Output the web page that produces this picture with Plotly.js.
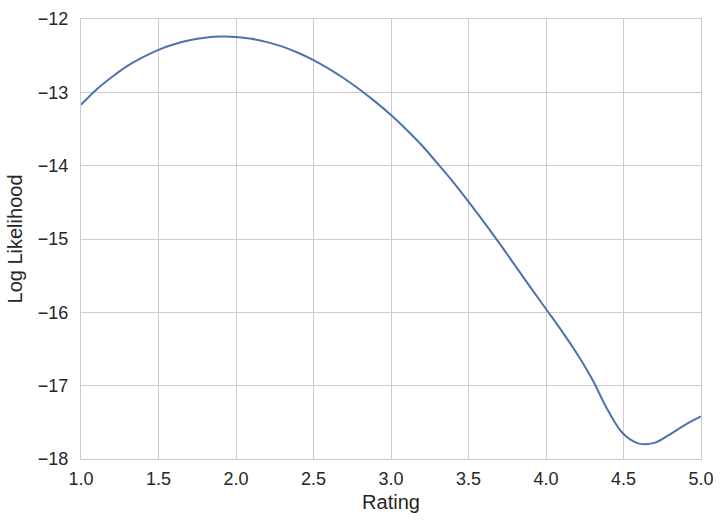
<!DOCTYPE html>
<html>
<head>
<meta charset="utf-8">
<script src="https://cdn.plot.ly/plotly-3.0.1.min.js"></script>
<style>html,body{margin:0;padding:0;background:#fff;}#chart{width:725px;height:524px;}</style>
</head>
<body>
<div id="chart"></div>
<script>
const rating = [1.0, 1.1, 1.2, 1.3, 1.4, 1.5, 1.6, 1.7, 1.8, 1.9, 2.0, 2.1, 2.2, 2.3, 2.4, 2.5, 2.6, 2.7, 2.8, 2.9, 3.0, 3.1, 3.2, 3.3, 3.4, 3.5, 3.6, 3.7, 3.8, 3.9, 4.0, 4.1, 4.2, 4.3, 4.4, 4.5, 4.6, 4.7, 4.8, 4.9, 5.0];
const logLik = [-13.17, -12.96, -12.79, -12.64, -12.52, -12.42, -12.345, -12.29, -12.255, -12.24, -12.245, -12.27, -12.315, -12.377, -12.46, -12.56, -12.68, -12.815, -12.965, -13.13, -13.31, -13.51, -13.725, -13.97, -14.22, -14.49, -14.77, -15.06, -15.36, -15.66, -15.955, -16.25, -16.565, -16.92, -17.34, -17.66, -17.79, -17.78, -17.665, -17.53, -17.42];
const xTicks = [1.0, 1.5, 2.0, 2.5, 3.0, 3.5, 4.0, 4.5, 5.0];
const xTickText = ["1.0", "1.5", "2.0", "2.5", "3.0", "3.5", "4.0", "4.5", "5.0"];
const yTicks = [-18, -17, -16, -15, -14, -13, -12];

const font = {family: "Liberation Sans, Arial, sans-serif", color: "#262626"};
const trace = {
  x: rating, y: logLik, type: "scatter", mode: "lines",
  line: {color: "#4c72b0", width: 2, shape: "spline", smoothing: 1},
  hoverinfo: "none"
};
const layout = {
  width: 725, height: 524,
  margin: {l: 81, r: 24, t: 19, b: 65},
  paper_bgcolor: "#ffffff", plot_bgcolor: "#ffffff",
  showlegend: false,
  font: Object.assign({size: 18}, font),
  xaxis: {
    range: [1, 5], tickvals: xTicks, ticktext: xTickText,
    showgrid: true, gridcolor: "#cccccc", gridwidth: 1,
    showline: true, linecolor: "#cccccc", linewidth: 1, mirror: true,
    zeroline: false, ticks: "", ticklabelstandoff: 3,
    tickfont: {size: 18, color: "#262626"},
    title: {text: "Rating", font: {size: 20, color: "#262626"}, standoff: 7}
  },
  yaxis: {
    range: [-18, -12], tickvals: yTicks,
    showgrid: true, gridcolor: "#cccccc", gridwidth: 1,
    showline: true, linecolor: "#cccccc", linewidth: 1, mirror: true,
    zeroline: false, ticks: "", ticklabelstandoff: 8,
    tickfont: {size: 18, color: "#262626"},
    title: {text: "Log Likelihood", font: {size: 20, color: "#262626"}, standoff: 9}
  }
};
Plotly.newPlot("chart", [trace], layout, {staticPlot: true, displayModeBar: false});
</script>
</body>
</html>
